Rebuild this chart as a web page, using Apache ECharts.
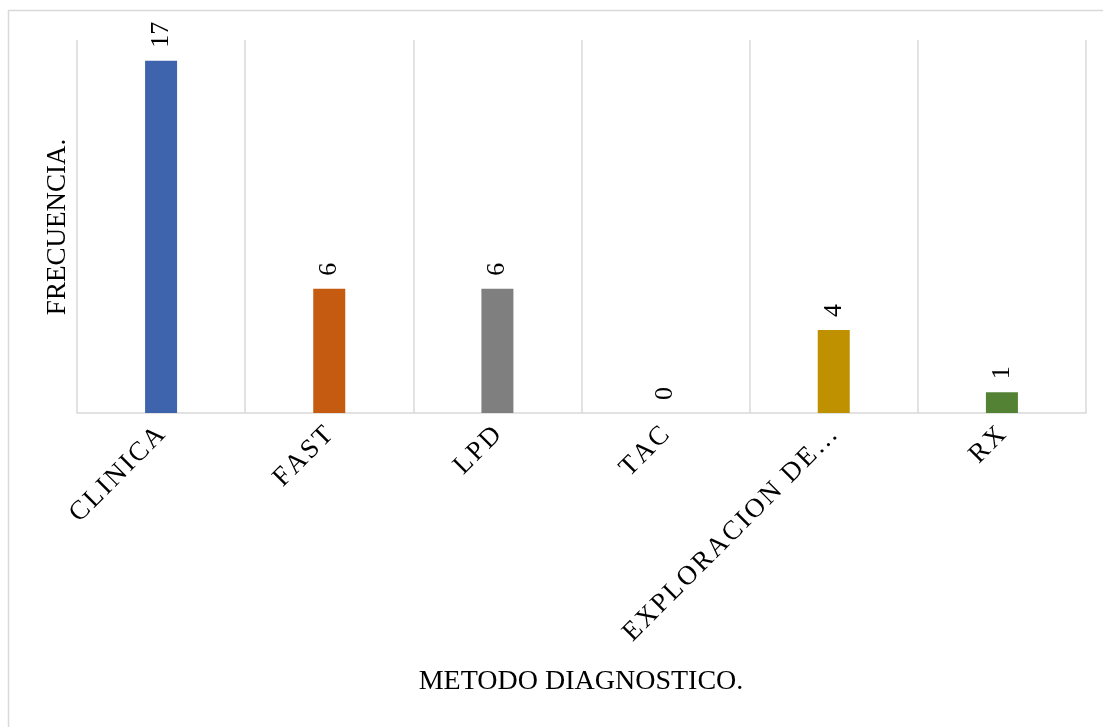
<!DOCTYPE html>
<html>
<head>
<meta charset="utf-8">
<script src="https://cdn.jsdelivr.net/npm/echarts@6/dist/echarts.min.js"></script>
<style>
  html, body { margin: 0; padding: 0; background: #ffffff; }
  #chart { width: 1103px; height: 727px; }
</style>
</head>
<body>
<div id="chart"></div>
<script>
// Diagnostic methods and how often each one was used
const categories = ['CLINICA', 'FAST', 'LPD', 'TAC', 'EXPLORACION DE\u2026', 'RX'];
const frequencies = [17, 6, 6, 0, 4, 1];
const barColors = ['#3D64AD', '#C55A11', '#7F7F7F', '#5B9BD5', '#BF9000', '#548235'];
const xTitle = 'METODO DIAGNOSTICO.';
const yTitle = 'FRECUENCIA.';

const serif = '"Liberation Serif", "DejaVu Serif", serif';
// widen letters a little, as in the original typesetting
const spaced = s => s.split('').join('\u200A');

const chart = echarts.init(document.getElementById('chart'));
chart.setOption({
  animation: false,
  backgroundColor: '#ffffff',
  grid: { left: 77, right: 17, top: 40, bottom: 314 },
  xAxis: {
    type: 'category',
    data: categories,
    axisLine: { lineStyle: { color: '#d9d9d9', width: 1.5 } },
    axisTick: { show: false },
    splitLine: { show: true, lineStyle: { color: '#d9d9d9', width: 1.5 } },
    axisLabel: {
      interval: 0,
      rotate: 45,
      margin: 18,
      fontFamily: serif,
      fontSize: 27,
      color: '#000000',
      formatter: v => spaced(v)
    }
  },
  yAxis: {
    type: 'value',
    min: 0,
    max: 18,
    interval: 2,
    axisLine: { show: false },
    axisTick: { show: false },
    axisLabel: { show: false },
    splitLine: { show: false }
  },
  series: [{
    type: 'bar',
    barWidth: 32,
    data: frequencies.map((v, i) => ({ value: v, itemStyle: { color: barColors[i] } })),
    label: {
      show: true,
      position: 'top',
      rotate: 90,
      align: 'left',
      verticalAlign: 'middle',
      distance: 13,
      fontFamily: serif,
      fontSize: 26,
      color: '#000000'
    }
  }],
  graphic: [
    {
      type: 'rect',
      shape: { x: 8.5, y: 10.5, width: 1110, height: 730 },
      style: { fill: null, stroke: '#d9d9d9', lineWidth: 1.5 },
      silent: true
    },
    {
      type: 'text',
      x: 581,
      y: 668,
      style: { text: xTitle, font: '28px ' + serif, fill: '#000000', align: 'center', verticalAlign: 'top' }
    },
    {
      type: 'text',
      x: 58,
      y: 227,
      rotation: Math.PI / 2,
      style: { text: yTitle, font: '27px ' + serif, fill: '#000000', align: 'center', verticalAlign: 'middle' }
    }
  ]
});
</script>
</body>
</html>
